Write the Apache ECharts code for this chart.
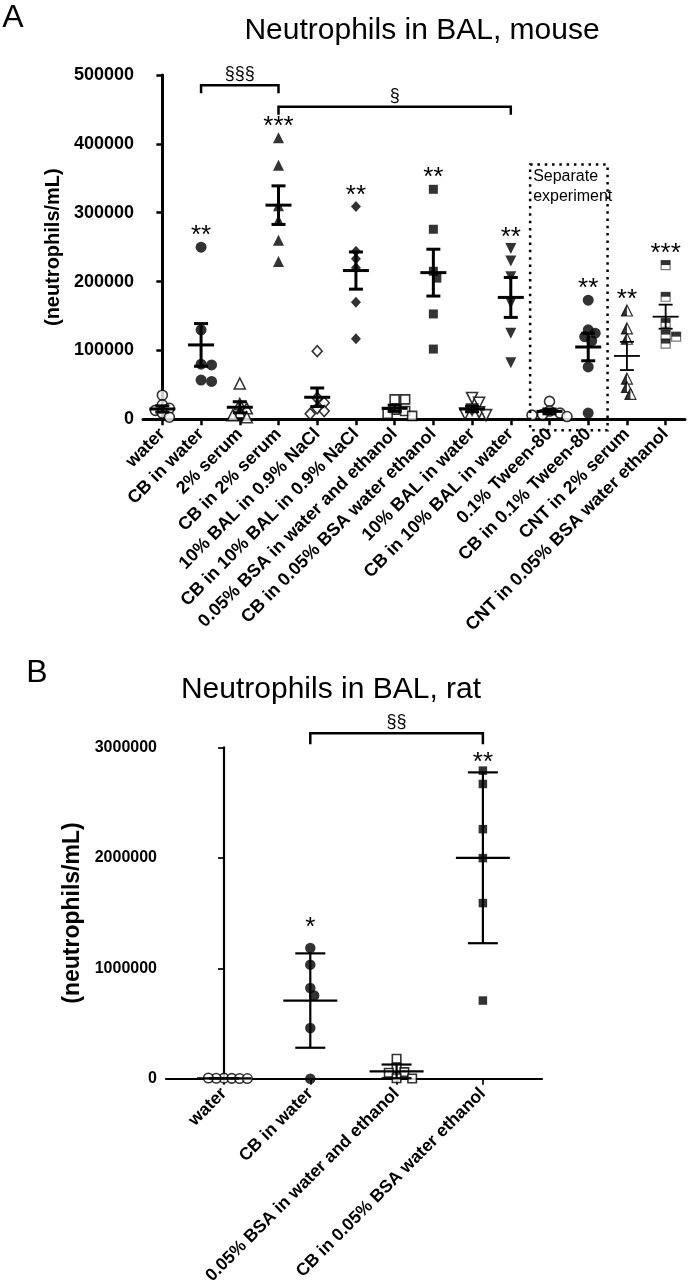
<!DOCTYPE html>
<html><head><meta charset="utf-8">
<script src="https://cdn.jsdelivr.net/npm/echarts@6/dist/echarts.min.js"></script>
<style>html,body{margin:0;padding:0;background:#fff}#c{width:688px;height:1287px}</style>
</head><body><div id="c"></div>
<script>
// ---------- Panel A data (mouse) ----------
const catsA = ['water','CB in water','2% serum','CB in 2% serum','10% BAL in 0.9% NaCl','CB in 10% BAL in 0.9% NaCl','0.05% BSA in water and ethanol','CB in 0.05% BSA water ethanol','10% BAL in water','CB in 10% BAL in water','0.1% Tween-80','CB in 0.1% Tween-80','CNT in 2% serum','CNT in 0.05% BSA water ethanol'];
const waterA      = [35000, 21000, 16000, 13000, 9000, 3000];
const cbWaterA    = [250000, 130000, 80000, 79000, 57000, 55000];
const serumA      = [52000, 22000, 16000, 10000, 6000, 3000];
const cbSerumA    = [409000, 369000, 310000, 289000, 260000, 229000];
const balNaClA    = [99000, 31000, 24000, 16000, 12000, 8000];
const cbBalNaClA  = [309000, 244000, 233000, 220000, 170000, 117000];
const bsaA        = [29000, 29000, 14000, 12000, 8000, 5000];
const cbBsaA      = [334000, 276000, 215000, 205000, 153000, 102000];
const balWaterA   = [31000, 24000, 14000, 10000, 8000, 6000];
const cbBalWaterA = [248000, 230000, 207000, 169000, 125000, 82000];
const tweenA      = [26000, 12000, 9000, 7000, 6000, 4000];
const cbTweenA    = [173000, 130000, 125000, 120000, 114000, 76000, 9000];
const cntSerumA   = [158000, 132000, 117000, 59000, 47000, 37000];
const cntBsaA     = [224000, 178000, 140000, 123000, 120000, 110000];
const meanA = [15000, 108000, 17500, 311000, 32000, 216000, 16000, 213000, 15000, 177000, 11500, 105000, 92000, 149000];
const semA  = [4500, 31000, 8000, 28000, 13500, 27000, 4500, 34000, 4000, 29000, 3500, 20000, 20500, 17500];
const starsA = ['', '**', '', '***', '', '**', '', '**', '', '**', '', '**', '**', '***'];
const yTicksA = [0, 100000, 200000, 300000, 400000, 500000];
const bracketFromA = [1, 3], bracketToA = [3, 9], bracketLevelA = [485000, 454000], bracketTextA = ['§§§', '§'];
const boxFromA = 9.5, boxToA = 11.5, boxTopA = 370000, boxBottomA = -16000;
const boxTextA = ['Separate', 'experiment'];

// ---------- Panel B data (rat) ----------
const catsB = ['water','CB in water','0.05% BSA in water and ethanol','CB in 0.05% BSA water ethanol'];
const waterB   = [6000, 4000, 5000, 3000, 7000, 2000];
const cbWaterB = [1183000, 1033000, 822000, 753000, 460000, 0];
const bsaB     = [181000, 99000, 60000, 54000, 5000, 3000];
const cbBsaB   = [2789000, 2668000, 2259000, 1997000, 1590000, 708000];
const meanB = [4500, 708000, 67000, 2000000];
const sdB   = [1800, 427000, 62000, 773000];
const starsB = ['', '*', '', '**'];
const yTicksB = [0, 1000000, 2000000, 3000000];
const bracketFromB = [1], bracketToB = [3], bracketLevelB = [3128000], bracketTextB = ['§§'];

const groupsA = [waterA, cbWaterA, serumA, cbSerumA, balNaClA, cbBalNaClA, bsaA, cbBsaA, balWaterA, cbBalWaterA, tweenA, cbTweenA, cntSerumA, cntBsaA];
const groupsB = [waterB, cbWaterB, bsaB, cbBsaB];

// ---------- layout / style ----------
const FONT = "'Liberation Sans', Arial, Helvetica, sans-serif";
const gA = {left: 143, top: 75, width: 542, height: 344.3};
const gB = {left: 166, top: 747.3, width: 376, height: 332};
const xMinA = -0.5, xMaxA = 13.5;
const xMinB = -0.672, xMaxB = 3.685;
const kindsA = ['oc','c','ot','t','od','d','os','s','oi','i','oc','c','ht','hs'];
const kindsB = ['oc','c','os','s'];
const ebWidthA = [3,3,3,3,3,3,3,3,3,3,3,3,1.8,1.8];
const starGapB = [0, 26, 0, 14];

function swarm(vals, center, sizePx, pxPerVal, pxPerX, dFrac, stepFrac) {
  const placed = [], out = [];
  const step = sizePx * stepFrac, minD = sizePx * dFrac;
  vals.forEach(v => {
    const y = v * pxPerVal;
    let x = 0;
    for (let k = 0; k < 80; k++) {
      const cand = k === 0 ? 0 : (k % 2 ? 1 : -1) * Math.ceil(k / 2) * step;
      if (placed.every(p => Math.hypot(p[0] - cand, p[1] - y) >= minD)) { x = cand; break; }
    }
    placed.push([x, y]);
    out.push([center + x / pxPerX, v]);
  });
  return out;
}

function markerSeries(kind, data, size, xi, yi, name) {
  const base = {type: 'scatter', name, xAxisIndex: xi, yAxisIndex: yi, data, silent: true, z: 3, animation: false};
  const open = {color: '#fff', borderColor: '#000', borderWidth: 1.6};
  const fill = {color: '#000', borderColor: '#000', borderWidth: 0};
  const out = [];
  switch (kind) {
    case 'oc': out.push(Object.assign({}, base, {symbol: 'circle', symbolSize: size, itemStyle: open})); break;
    case 'c':  out.push(Object.assign({}, base, {symbol: 'circle', symbolSize: size + 1, itemStyle: fill})); break;
    case 'ot': out.push(Object.assign({}, base, {symbol: 'triangle', symbolSize: size + 1, itemStyle: open})); break;
    case 't':  out.push(Object.assign({}, base, {symbol: 'triangle', symbolSize: size + 1, itemStyle: fill})); break;
    case 'od': out.push(Object.assign({}, base, {symbol: 'diamond', symbolSize: [size, size + 1], itemStyle: open})); break;
    case 'd':  out.push(Object.assign({}, base, {symbol: 'diamond', symbolSize: [size, size + 1], itemStyle: fill})); break;
    case 'os': out.push(Object.assign({}, base, {symbol: 'rect', symbolSize: size - 1, itemStyle: open})); break;
    case 's':  out.push(Object.assign({}, base, {symbol: 'rect', symbolSize: size - 1, itemStyle: fill})); break;
    case 'oi': out.push(Object.assign({}, base, {symbol: 'triangle', symbolRotate: 180, symbolSize: size + 1, itemStyle: open})); break;
    case 'i':  out.push(Object.assign({}, base, {symbol: 'triangle', symbolRotate: 180, symbolSize: size + 1, itemStyle: fill})); break;
    case 'ht': {
      const s = size + 1;
      out.push(Object.assign({}, base, {symbol: 'triangle', symbolSize: s, itemStyle: {color: '#fff', borderColor: '#000', borderWidth: 1.2}}));
      out.push(Object.assign({}, base, {z: 4, symbol: 'path://M1,0 L0,2 L1,2 Z', symbolSize: [s / 2, s], symbolOffset: [-s / 4, 0], itemStyle: fill}));
      break;
    }
    case 'hs': {
      const s = size - 1;
      out.push(Object.assign({}, base, {symbol: 'rect', symbolSize: s, itemStyle: {color: '#fff', borderColor: '#555', borderWidth: 1.2}}));
      out.push(Object.assign({}, base, {z: 4, symbol: 'rect', symbolSize: [s, s / 2], symbolOffset: [0, -s / 4], itemStyle: fill}));
      break;
    }
  }
  return out;
}

const series = [];
const pxPerValA = gA.height / 500000, pxPerXA = gA.width / (xMaxA - xMinA);
const pxPerValB = gB.height / 3000000, pxPerXB = gB.width / (xMaxB - xMinB);
const sizeA = 10, sizeB = 9.5;
groupsA.forEach((vals, i) => {
  const pts = swarm(vals, i, sizeA, pxPerValA, pxPerXA, 0.75, 0.35);
  markerSeries(kindsA[i], pts, sizeA, 0, 0, catsA[i]).forEach(s => series.push(s));
});
groupsB.forEach((vals, i) => {
  const pts = swarm(vals, i, sizeB, pxPerValB, pxPerXB, 0.82, 0.41);
  markerSeries(kindsB[i], pts, sizeB, 1, 1, catsB[i]).forEach(s => series.push(s));
});

function errRender(halfMean, halfCap, widths) {
  return function (params, api) {
    const x = api.value(0), m = api.value(1), e = api.value(2);
    const c = api.coord([x, m]), t = api.coord([x, m + e]), b = api.coord([x, m - e]);
    const lw = widths[params.dataIndex];
    const st = {stroke: '#000', lineWidth: lw, fill: null};
    return {type: 'group', children: [
      {type: 'line', shape: {x1: c[0], y1: t[1], x2: c[0], y2: b[1]}, style: st},
      {type: 'line', shape: {x1: c[0] - halfMean, y1: c[1], x2: c[0] + halfMean, y2: c[1]}, style: st},
      {type: 'line', shape: {x1: c[0] - halfCap, y1: t[1], x2: c[0] + halfCap, y2: t[1]}, style: st},
      {type: 'line', shape: {x1: c[0] - halfCap, y1: b[1], x2: c[0] + halfCap, y2: b[1]}, style: st}
    ]};
  };
}
series.push({type: 'custom', xAxisIndex: 0, yAxisIndex: 0, z: 5, silent: true, animation: false,
  data: meanA.map((m, i) => [i, m, semA[i]]), renderItem: errRender(13, 7, ebWidthA)});
series.push({type: 'custom', xAxisIndex: 1, yAxisIndex: 1, z: 5, silent: true, animation: false,
  data: meanB.map((m, i) => [i, m, sdB[i]]), renderItem: errRender(27, 15, [2.2, 2.2, 2.2, 2.2])});

function txt(text, x, y, font, align, valign) {
  return {type: 'text', style: {text, x, y, font, fill: '#000', align: align || 'center', verticalAlign: valign || 'middle', textAlign: align || 'center', textVerticalAlign: valign || 'middle'}};
}

function annotRender(groups, stars, starGap, bFrom, bTo, bLevel, bText, legPx, box) {
  return function (params, api) {
    const ch = [];
    stars.forEach((s, i) => {
      if (!s) return;
      const mx = Math.max.apply(null, groups[i]);
      const p = api.coord([i, mx]);
      const gap = typeof starGap === 'number' ? starGap : starGap[i];
      ch.push(txt(s, p[0], p[1] - gap + 6, '26px ' + FONT));
    });
    bFrom.forEach((f, k) => {
      const a = api.coord([f, bLevel[k]]), b = api.coord([bTo[k], bLevel[k]]);
      ch.push({type: 'polyline', shape: {points: [[a[0], a[1] + legPx], [a[0], a[1]], [b[0], b[1]], [b[0], b[1] + legPx]]},
        style: {stroke: '#000', lineWidth: 2.5, fill: null}});
      ch.push(txt(bText[k], (a[0] + b[0]) / 2, a[1] - 11, '18px ' + FONT));
    });
    if (box) {
      const tl = api.coord([box.from, box.top]), br = api.coord([box.to, box.bottom]);
      ch.push({type: 'rect', shape: {x: tl[0], y: tl[1], width: br[0] - tl[0], height: br[1] - tl[1]},
        style: {fill: null, stroke: '#000', lineWidth: 2.5, lineDash: [2.5, 4.8]}});
      ch.push(txt(box.text[0], tl[0] + 3, tl[1] + 12, '16px ' + FONT, 'left'));
      ch.push(txt(box.text[1], tl[0] + 3, tl[1] + 32, '16px ' + FONT, 'left'));
    }
    return {type: 'group', children: ch};
  };
}
series.push({type: 'custom', xAxisIndex: 0, yAxisIndex: 0, z: 6, silent: true, animation: false, clip: false,
  data: [[0, 0]],
  renderItem: annotRender(groupsA, starsA, 17, bracketFromA, bracketToA, bracketLevelA, bracketTextA, 8,
    {from: boxFromA, to: boxToA, top: boxTopA, bottom: boxBottomA, text: boxTextA})});
series.push({type: 'custom', xAxisIndex: 1, yAxisIndex: 1, z: 6, silent: true, animation: false, clip: false,
  data: [[0, 0]],
  renderItem: annotRender(groupsB, starsB, starGapB, bracketFromB, bracketToB, bracketLevelB, bracketTextB, 11, null)});

function xAxisCfg(gi, min, max, cats, lw, fs) {
  const idx = cats.map((c, i) => i);
  return {type: 'value', gridIndex: gi, min, max, splitLine: {show: false},
    axisLine: {show: true, onZero: false, lineStyle: {color: '#000', width: lw}},
    axisTick: {show: true, customValues: idx, length: 6, lineStyle: {color: '#000', width: lw - 0.5}},
    axisLabel: {show: true, customValues: idx, rotate: 45, margin: 12, color: '#000', fontFamily: FONT, fontWeight: 'bold', fontSize: fs,
      formatter: v => cats[Math.round(v)]}};
}
function yAxisCfg(gi, max, interval, lw, fs, nameFs, gap) {
  return {type: 'value', gridIndex: gi, min: 0, max, interval, splitLine: {show: false},
    axisLine: {show: true, lineStyle: {color: '#000', width: lw}},
    axisTick: {show: true, length: 6, lineStyle: {color: '#000', width: lw - 0.5}},
    axisLabel: {margin: 9, color: '#000', fontFamily: FONT, fontWeight: 'bold', fontSize: fs, formatter: v => String(v)},
    name: '(neutrophils/mL)', nameLocation: 'middle', nameGap: gap, nameRotate: 90,
    nameTextStyle: {color: '#000', fontFamily: FONT, fontWeight: 'bold', fontSize: nameFs}};
}

const chart = echarts.init(document.getElementById('c'), null, {renderer: 'canvas'});
chart.setOption({
  backgroundColor: '#fff',
  animation: false,
  grid: [
    Object.assign({containLabel: false}, gA),
    Object.assign({containLabel: false}, gB)
  ],
  xAxis: [xAxisCfg(0, xMinA, xMaxA, catsA, 3, 18), xAxisCfg(1, xMinB, xMaxB, catsB, 2.2, 17.5)],
  yAxis: [yAxisCfg(0, yTicksA[yTicksA.length - 1], yTicksA[1], 3, 18, 20, 72),
          yAxisCfg(1, yTicksB[yTicksB.length - 1], yTicksB[1], 2.2, 16, 23, 82)],
  graphic: [
    txt('A', 13, 18, '32px ' + FONT),
    txt('Neutrophils in BAL, mouse', 422, 31, '30px ' + FONT),
    txt('B', 37, 673, '32px ' + FONT),
    txt('Neutrophils in BAL, rat', 331, 690, '30px ' + FONT)
  ],
  series
});
</script></body></html>
